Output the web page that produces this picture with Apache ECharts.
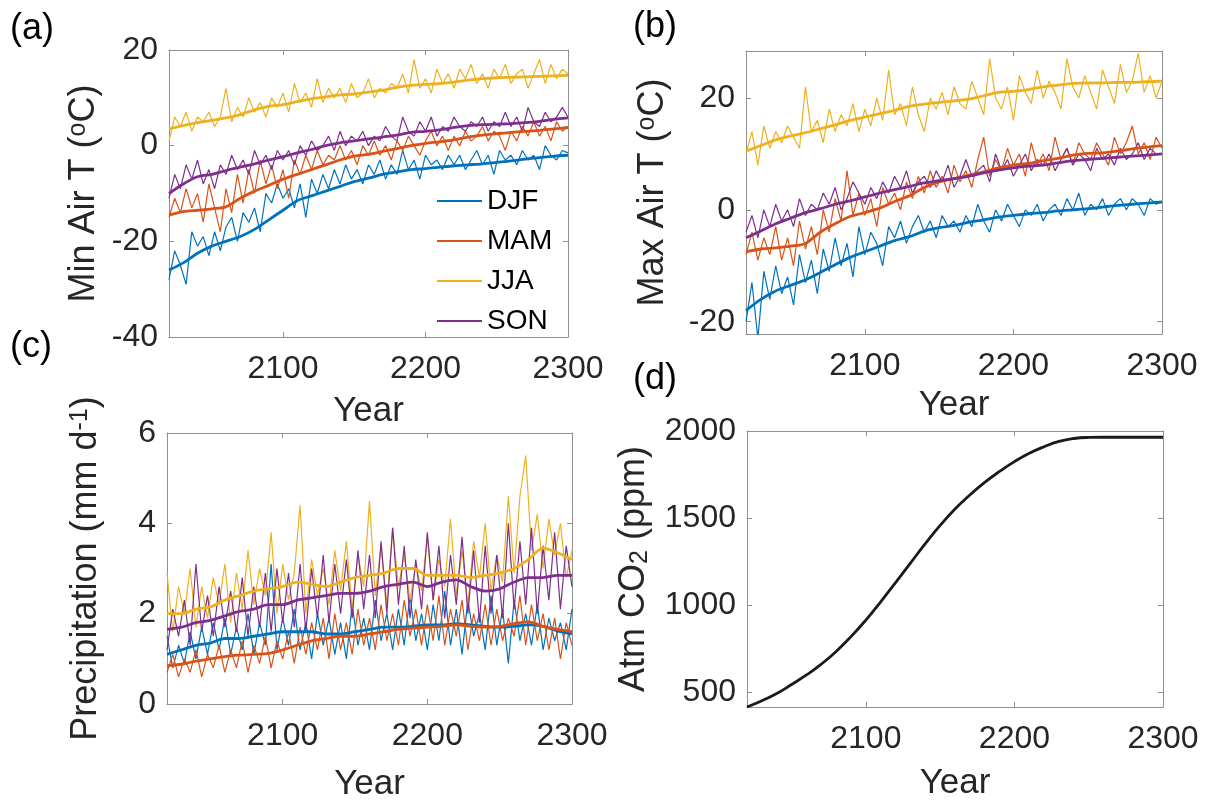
<!DOCTYPE html>
<html>
<head>
<meta charset="utf-8">
<script src="https://cdn.jsdelivr.net/npm/echarts@6/dist/echarts.min.js"></script>
<style>
  html, body { margin: 0; padding: 0; background: #fff; }
  #chart { width: 1205px; height: 804px; }
</style>
</head>
<body>
<div id="chart"></div>
<script>
// years: thin yearly-ish series every 4 yr, running means every 10 yr
var yr4 = [];
for (var y = 2020; y <= 2300; y += 4) yr4.push(y);
var yr10 = [];
for (var y2 = 2020; y2 <= 2300; y2 += 10) yr10.push(y2);

var seasons = ['DJF', 'MAM', 'JJA', 'SON'];
var xTicks = [2100, 2200, 2300];

// (a) Min air T
var minT_DJF = [
  -28, -22, -25, -29, -18, -21, -19, -23, -18, -22,
  -17, -15, -20, -14, -16, -13, -18, -10, -12, -8,
  -11, -9, -13, -8, -15, -7, -10, -6, -9, -5,
  -8, -4, -7, -5, -8, -4, -6, -3, -7, -4,
  -6, -1, -5, -3, -7, -2, -4, -3, -5, -2,
  -4, -2, -5, -3, -1, -4, -2, -6, -1, -3,
  -2, -4, -1, -3, -2, -5, 0, -2, -3, -1, -1.5];
var minT_MAM = [
  -15, -11, -14, -9, -13, -10, -16, -8, -13, -18,
  -9, -14, -6, -12, -5, -10, -3, -8, -4, -9,
  -5, -11, -3, -6, -2, -5, -1, -4, -2, -3,
  0, -3, -1, -4, 0, -2, 1, -2, 0, -3,
  1, -1, 2, 0, -2, 1, 3, 0, 2, -1,
  2, 0, 3, 1, 2, 4, 1, 3, 2, -1,
  3, 1, 4, 2, 5, 2, 4, 1, 5, 3, 4];
var minT_JJA = [
  1, 6, 4, 7, 3, 6, 5, 7, 4, 6,
  12, 5, 8, 6, 10, 7, 9, 6, 10, 8,
  11, 7, 13, 9, 11, 8, 14, 9, 12, 10,
  12, 9, 13, 10, 11, 14, 10, 12, 11, 13,
  12, 15, 11, 18, 12, 14, 11, 16, 13, 15,
  12, 16, 14, 17, 13, 15, 12, 16, 14, 17,
  13, 15, 16, 12, 15, 18, 13, 17, 14, 16, 15];
var minT_SON = [
  -11, -6, -9, -4, -7, -3, -8, -5, -9, -4,
  -6, -2, -5, -3, -6, -1, -4, -2, -5, -1,
  -3, -1, -4, 0, -2, 1, -1, 0, 2, -1,
  3, 0, 2, 1, 3, 0, 2, 1, 4, 2,
  1, 6, 3, 2, 5, 3, 6, 2, 4, 3,
  6, 4, 3, 5, 4, 6, 3, 5, 4, 7,
  4, 6, 3, 8, 5, 4, 7, 5, 6, 8, 6];
var minTm_DJF = [-26, -24.5, -22.5, -21, -20, -19, -17.5, -15.5, -13.5, -11.5, -10.5, -9.5, -8.5, -7.5, -6.8, -6, -5.5, -5, -4.8, -4.5, -4.2, -4, -3.8, -3.5, -3.2, -2.8, -2.5, -2.2, -2];
var minTm_MAM = [-14.5, -13.8, -13.5, -13.2, -12.8, -11, -9.5, -8.3, -7, -6, -5, -4, -3, -2.2, -1.8, -1.2, -0.6, 0, 0.5, 0.8, 1.2, 1.8, 2.2, 2.5, 2.8, 3, 3.2, 3.5, 3.8];
var minTm_JJA = [3.5, 4.2, 4.8, 5.3, 5.8, 6.5, 7.5, 8.2, 8.6, 9.2, 9.8, 10.2, 10.6, 10.8, 11.2, 11.6, 12.2, 12.6, 12.8, 13, 13.3, 13.7, 14, 14.2, 14.3, 14.4, 14.5, 14.6, 14.7];
var minTm_SON = [-10, -8, -6.5, -6, -5.2, -4.5, -3.8, -3, -2.3, -1.5, -0.8, 0, 0.6, 1, 1.4, 1.8, 2.2, 2.8, 3, 3.3, 3.8, 4.2, 4.4, 4.5, 4.6, 4.8, 5.1, 5.5, 5.8];

// (b) Max air T
var maxT_DJF = [
  -20, -13, -23, -11, -16, -10, -15, -12, -17, -8,
  -13, -9, -15, -7, -11, -5, -10, -6, -12, -3,
  -8, -4, -6, -10, -3, -5, -2, -6, -3, -1,
  -4, -2, -5, -1, -3, -2, -4, -1, -3, 1,
  -2, -4, 0, -2, 1, -1, -3, 0, -1, 1,
  -2, 0, 1, -1, 2, 0, 3, -1, 1, 0,
  2, -1, 1, 2, 0, 2, 1, -1, 2, 1, 1.5];
var maxT_MAM = [
  -8, -4, -9, -5, -8, -3, -9, -5, -10, -2,
  -7, -3, -8, 0, -4, 2, -2, 7, -1, 3,
  -1, 2, -3, 4, 1, 3, 0, 5, 2, 6,
  3, 7, 4, 6, 3, 8, 5, 7, 4, 9,
  13, 6, 9, 7, 11, 8, 10, 6, 12, 8,
  10, 7, 13, 9, 11, 8, 12, 10, 9, 12,
  10, 8, 13, 10, 12, 15, 10, 12, 9, 13, 11];
var maxT_JJA = [
  10, 14, 8, 15, 11, 14, 12, 15, 13, 11,
  22, 14, 16, 12, 18, 14, 17, 15, 19, 14,
  18, 15, 20, 16, 25, 17, 19, 15, 22, 17,
  14, 20, 18, 21, 17, 22, 19, 18, 23, 20,
  17, 27, 20, 18, 22, 16, 24, 21, 19, 25,
  20, 23, 21, 18, 27, 22, 20, 24, 21, 18,
  25, 22, 19, 26, 21, 23, 28, 21, 24, 20, 23];
var maxT_SON = [
  -4, -1, -5, 0, -3, 1, -2, 0, -3, 2,
  -1, 1, 0, 3, 1, 4, 0, 2, 5, 3,
  1, 4, 2, 5, 3, 6, 4, 7, 3, 5,
  6, 4, 7, 5, 8, 4, 6, 9, 6, 7,
  8, 5, 10, 7, 9, 6, 8, 10, 7, 9,
  8, 10, 7, 9, 11, 8, 10, 9, 7, 11,
  9, 10, 8, 11, 9, 10, 12, 9, 11, 10, 10];
var maxTm_DJF = [-18, -16, -14.5, -13.5, -12.5, -11.2, -9.8, -8.5, -7.5, -6.5, -5.5, -4.8, -3.8, -3.2, -2.8, -2.2, -1.8, -1.3, -1, -0.7, -0.5, -0.2, 0, 0.2, 0.5, 0.8, 1, 1.2, 1.4];
var maxTm_MAM = [-7.5, -7, -6.8, -6.5, -6, -4, -2.5, -1.2, -0.5, 0.3, 1.5, 2.5, 4, 5, 5.6, 6.2, 6.8, 7.5, 8, 8.3, 8.8, 9.2, 9.8, 10.1, 10.2, 10.5, 10.9, 11.2, 11.5];
var maxTm_JJA = [10.5, 11.5, 12.5, 13.2, 13.8, 14.5, 15.2, 16, 16.6, 17.2, 17.8, 18.5, 18.9, 19.2, 19.5, 19.8, 20.4, 21, 21.2, 21.5, 22, 22.3, 22.6, 22.7, 22.7, 22.8, 22.8, 22.9, 23];
var maxTm_SON = [-5, -3.8, -2.5, -1.5, -0.5, 0.2, 1, 1.6, 2.3, 3, 3.6, 4.2, 4.8, 5.2, 5.6, 6, 6.6, 7.1, 7.5, 7.8, 8, 8.4, 8.8, 9, 9.2, 9.4, 9.6, 9.8, 10];

// (c) Precipitation
var pr_DJF = [
  1.5, 0.8, 1.3, 0.9, 1.6, 1.0, 1.7, 1.1, 1.8, 1.2,
  1.9, 1.1, 1.7, 1.2, 2.0, 1.1, 1.8, 1.3, 3.1, 1.2,
  1.9, 1.3, 2.1, 1.2, 1.8, 1.0, 2.0, 1.3, 1.9, 1.1,
  1.8, 1.0, 2.2, 1.3, 1.9, 1.2, 2.3, 1.4, 2.0, 1.2,
  2.1, 1.3, 2.4, 1.4, 2.0, 1.2, 2.2, 1.4, 2.5, 1.3,
  2.1, 1.1, 2.3, 1.5, 2.0, 1.2, 2.4, 1.3, 2.1, 0.9,
  2.3, 1.4, 2.0, 1.3, 2.2, 1.2, 1.9, 1.4, 1.8, 1.2, 2.1];
var pr_MAM = [
  0.7, 1.1, 0.6, 1.0, 0.7, 1.2, 0.6, 1.1, 0.8, 1.3,
  0.7, 1.2, 0.8, 1.4, 0.7, 1.3, 0.9, 1.5, 0.8, 1.4,
  1.0, 1.6, 0.9, 1.7, 1.1, 1.8, 1.2, 1.9, 1.0, 2.0,
  1.2, 1.8, 1.1, 2.1, 1.3, 1.9, 1.2, 2.2, 1.4, 2.0,
  1.3, 2.3, 1.5, 2.1, 1.3, 2.2, 1.4, 2.4, 1.3, 2.1,
  1.5, 2.3, 1.2, 2.0, 1.4, 2.2, 1.3, 2.1, 1.4, 1.9,
  1.5, 2.4, 1.3, 2.2, 1.4, 2.0, 1.2, 1.9, 1.0, 1.8, 1.3];
var pr_JJA = [
  2.9, 1.6, 2.6, 2.0, 3.0, 1.7, 2.6, 1.9, 2.8, 2.2,
  3.1, 1.8, 2.9, 2.1, 3.4, 2.2, 3.0, 2.4, 3.8, 2.0,
  3.1, 2.3, 2.9, 4.4, 2.0, 3.2, 2.4, 3.0, 2.2, 3.4,
  2.5, 3.6, 2.1, 3.3, 2.6, 4.5, 2.4, 3.5, 2.2, 3.9,
  2.6, 3.3, 2.3, 3.1, 2.5, 3.7, 2.3, 3.2, 2.6, 4.1,
  2.4, 3.4, 2.2, 3.6, 2.8, 4.0, 2.5, 3.3, 2.7, 4.6,
  2.9, 4.6, 5.5, 3.4, 4.2, 3.0, 4.1, 3.3, 4.0, 2.8, 3.4];
var pr_SON = [
  1.2, 2.1, 1.5, 2.3, 1.3, 3.1, 1.6, 2.4, 1.5, 2.6,
  1.7, 2.5, 1.6, 2.8, 1.5, 2.6, 1.7, 2.9, 1.6, 3.0,
  1.8, 2.9, 1.7, 3.1, 1.6, 3.0, 1.9, 3.3, 1.8, 3.1,
  2.0, 3.2, 1.9, 3.4, 2.1, 3.3, 1.9, 3.6, 2.0, 3.9,
  2.2, 3.5, 1.9, 3.2, 2.1, 3.8, 2.3, 3.5, 1.9, 3.3,
  2.2, 3.7, 2.0, 3.4, 1.8, 3.5, 2.0, 3.3, 1.9, 4.0,
  2.1, 3.6, 2.2, 3.9, 2.0, 3.5, 2.3, 3.8, 2.1, 3.5, 2.6];
var prm_DJF = [1.1, 1.2, 1.3, 1.35, 1.45, 1.45, 1.5, 1.55, 1.6, 1.6, 1.6, 1.55, 1.55, 1.6, 1.65, 1.7, 1.7, 1.72, 1.75, 1.75, 1.78, 1.75, 1.72, 1.7, 1.72, 1.75, 1.72, 1.62, 1.55];
var prm_MAM = [0.85, 0.88, 0.95, 1.0, 1.05, 1.08, 1.1, 1.12, 1.2, 1.3, 1.4, 1.45, 1.5, 1.5, 1.55, 1.6, 1.65, 1.68, 1.7, 1.72, 1.75, 1.72, 1.7, 1.72, 1.78, 1.82, 1.72, 1.65, 1.6];
var prm_JJA = [2.0, 2.0, 2.1, 2.15, 2.3, 2.4, 2.5, 2.55, 2.6, 2.7, 2.65, 2.6, 2.7, 2.8, 2.85, 2.9, 3.0, 3.0, 2.85, 2.85, 2.85, 2.8, 2.85, 2.9, 3.0, 3.2, 3.45, 3.35, 3.2];
var prm_SON = [1.65, 1.7, 1.8, 1.85, 1.95, 2.05, 2.1, 2.2, 2.2, 2.3, 2.35, 2.4, 2.45, 2.45, 2.5, 2.6, 2.65, 2.7, 2.6, 2.7, 2.75, 2.6, 2.5, 2.55, 2.7, 2.8, 2.8, 2.85, 2.85];

// (d) Atmospheric CO2
var co2 = [416, 452, 493, 545, 600, 662, 735, 820, 915, 1020, 1130, 1242, 1353, 1458, 1552, 1633, 1705, 1768, 1824, 1872, 1910, 1940, 1957, 1963, 1964, 1964, 1964, 1964, 1964];

var colors = ['#0072BD', '#D95319', '#EDB120', '#7E2F8E'];
var ff = '"Liberation Sans", Arial, Helvetica, sans-serif';
var txt = '#262626';
var axisGray = '#8f8f8f';

function pairs(xs, ys) {
    return xs.map(function (x, i) { return [x, ys[i]]; });
}
function plain(v) { return String(v); }

var grids = [
    {left: 169, top: 50, width: 399, height: 287},
    {left: 746, top: 51, width: 416, height: 283},
    {left: 167, top: 433, width: 405, height: 271},
    {left: 747, top: 431, width: 416, height: 276}
];

var panels = [
    {min: -40, max: 20, ticks: [-40, -20, 0, 20], name: 'Min Air T ({sup|o}C)', yGap: 66, xGap: 57},
    {min: -22.2, max: 28.4, ticks: [-20, 0, 20], name: 'Max Air T ({sup|o}C)', yGap: 74, xGap: 54},
    {min: 0, max: 6, ticks: [0, 2, 4, 6], name: 'Precipitation (mm d{sup|-1})', yGap: 62, xGap: 63},
    {min: 416, max: 2000, ticks: [500, 1000, 1500, 2000], name: 'Atm CO{sub|2} (ppm)', yGap: 94, xGap: 59}
];

var richStyle = {
    sup: {fontSize: 25, fontFamily: ff, color: txt, verticalAlign: 'top', padding: [0, 0, 12, 0]},
    sub: {fontSize: 25, fontFamily: ff, color: txt, verticalAlign: 'bottom', padding: [12, 0, 0, 0]}
};

var xAxes = [], yAxes = [];
panels.forEach(function (p, i) {
    ['bottom', 'top'].forEach(function (pos) {
        var main = pos === 'bottom';
        xAxes.push({
            type: 'value', gridIndex: i, position: pos, min: 2020, max: 2300,
            axisLine: {show: true, onZero: false, lineStyle: {color: axisGray, width: 1}},
            axisTick: {show: true, inside: true, length: 5, customValues: xTicks, lineStyle: {color: axisGray}},
            axisLabel: {show: main, customValues: xTicks, formatter: plain, margin: 16, fontSize: 32, color: txt, fontFamily: ff},
            splitLine: {show: false},
            name: main ? 'Year' : '', nameLocation: 'middle', nameGap: p.xGap,
            nameTextStyle: {fontSize: 35, color: txt, fontFamily: ff}
        });
    });
    ['left', 'right'].forEach(function (pos) {
        var main = pos === 'left';
        yAxes.push({
            type: 'value', gridIndex: i, position: pos, min: p.min, max: p.max,
            axisLine: {show: true, onZero: false, lineStyle: {color: axisGray, width: 1}},
            axisTick: {show: true, inside: true, length: 5, customValues: p.ticks, lineStyle: {color: axisGray}},
            axisLabel: {show: main, customValues: p.ticks, formatter: plain, margin: 11, fontSize: 32, color: txt, fontFamily: ff},
            splitLine: {show: false},
            name: main ? p.name : '', nameLocation: 'middle', nameGap: p.yGap, nameRotate: 90,
            nameTextStyle: {fontSize: 36, color: txt, fontFamily: ff, rich: richStyle}
        });
    });
});

var thin = [
    [minT_DJF, minT_MAM, minT_JJA, minT_SON],
    [maxT_DJF, maxT_MAM, maxT_JJA, maxT_SON],
    [pr_DJF, pr_MAM, pr_JJA, pr_SON]
];
var thick = [
    [minTm_DJF, minTm_MAM, minTm_JJA, minTm_SON],
    [maxTm_DJF, maxTm_MAM, maxTm_JJA, maxTm_SON],
    [prm_DJF, prm_MAM, prm_JJA, prm_SON]
];

var series = [];
for (var p = 0; p < 3; p++) {
    for (var s = 0; s < 4; s++) {
        series.push({
            type: 'line', name: seasons[s], xAxisIndex: 2 * p, yAxisIndex: 2 * p,
            data: pairs(yr4, thin[p][s]), symbol: 'none', showSymbol: false, z: 2,
            lineStyle: {width: 1.2, color: colors[s]}, itemStyle: {color: colors[s]}
        });
    }
    for (var s2 = 0; s2 < 4; s2++) {
        series.push({
            type: 'line', name: seasons[s2] + ' mean', xAxisIndex: 2 * p, yAxisIndex: 2 * p,
            data: pairs(yr10, thick[p][s2]), symbol: 'none', z: 3, smooth: 0.3,
            lineStyle: {width: 2.8, color: colors[s2]}, itemStyle: {color: colors[s2]}
        });
    }
}
series.push({
    type: 'line', name: 'CO2', xAxisIndex: 6, yAxisIndex: 6,
    data: pairs(yr10, co2), symbol: 'none', smooth: 0.5,
    lineStyle: {width: 2.8, color: '#1a1a1a'}, itemStyle: {color: '#1a1a1a'}
});

function letter(t, x, y) {
    return {type: 'text', left: x, top: y, style: {text: t, fontSize: 36, fontFamily: ff, fill: '#000'}};
}

var chart = echarts.init(document.getElementById('chart'), null, {renderer: 'canvas'});
chart.setOption({
    animation: false,
    backgroundColor: '#fff',
    grid: grids,
    xAxis: xAxes,
    yAxis: yAxes,
    legend: {
        data: seasons.map(function (n) { return {name: n, icon: 'rect'}; }),
        orient: 'vertical', left: 432, top: 182,
        itemWidth: 45, itemHeight: 2, itemGap: 12, selectedMode: false,
        textStyle: {fontSize: 28, lineHeight: 28, color: '#000', fontFamily: ff}
    },
    graphic: [
        letter('(a)', 10, 11),
        letter('(b)', 633, 9),
        letter('(c)', 10, 329),
        letter('(d)', 633, 361)
    ],
    series: series
});
</script>
</body>
</html>
